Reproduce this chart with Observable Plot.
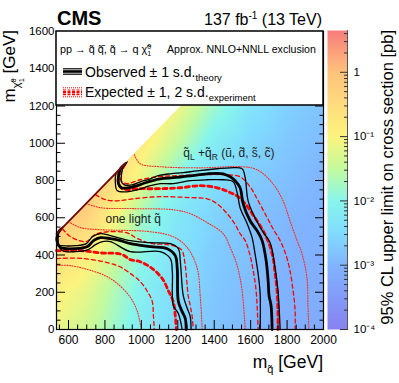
<!DOCTYPE html>
<html><head><meta charset="utf-8">
<script src="https://cdn.jsdelivr.net/npm/d3@7"></script>
<script src="https://cdn.jsdelivr.net/npm/@observablehq/plot@0.6"></script>
<style>
body{margin:0;background:#fff;}
#wrap{position:relative;width:399px;height:383px;overflow:hidden;font-family:"Liberation Sans",Arial,Helvetica,sans-serif;}
#wrap svg{position:absolute;top:0;}
</style></head><body><div id="wrap"></div>
<script>
// ---------- axes ----------
const xMin = 534, xMax = 2000, yMin = 0, yMax = 1600;
const xMajorTicks = [600, 800, 1000, 1200, 1400, 1600, 1800, 2000];
const yMajorTicks = [0, 200, 400, 600, 800, 1000, 1200, 1400, 1600];
const diagonalDm = 20;              // m(chi) = m(q) - dm edge of the plane
const diagonalEdgeX = [534, 912];   // span where the exclusion follows the diagonal

// ---------- heat map: log10(95% CL upper limit [pb]) ----------
const gridX = [534, 700, 850, 1000, 1200, 1400, 1600, 1800, 2000];
const gridY = [0, 200, 400, 600, 800, 1000, 1200, 1400, 1600];
const limitLog10 = [
  [-1.15, -1.4, -1.8, -2.2, -2.55, -2.8, -2.95, -3.1, -3.2],
  [-0.95, -1.2, -1.65, -2.1, -2.5, -2.75, -2.9, -3.05, -3.15],
  [-0.5, -0.9, -1.45, -1.95, -2.4, -2.7, -2.85, -3.0, -3.1],
  [-0.05, -0.3, -1.0, -1.75, -2.3, -2.6, -2.8, -2.95, -3.05],
  [0.2, 0.0, -0.5, -1.2, -2.0, -2.45, -2.7, -2.85, -3.0],
  [0.3, 0.1, -0.2, -0.8, -1.5, -2.2, -2.55, -2.75, -2.9],
  [0.3, 0.2, 0.0, -0.5, -1.1, -1.8, -2.35, -2.65, -2.8],
  [0.3, 0.2, 0.0, -0.3, -0.8, -1.4, -2.0, -2.5, -2.7],
  [0.3, 0.2, 0.0, -0.2, -0.6, -1.1, -1.7, -2.3, -2.6]
];
const barMinLog = -4, barMaxLog = 0.65;
const barMajor = [-4, -3, -2, -1, 0];

// ---------- contours: one light squark ----------
const obsA = [[556,536],[539,509],[539,466],[556,440],[638,434],[704,445],[737,477],[775,493],[830,488],[885,477],[940,461],[1049,445],[1142,434],[1186,397],[1197,327],[1203,150],[1224,96],[1241,59],[1246,0]];
const obsAUp = [[572,552],[545,531],[534,493],[539,456],[567,450],[638,450],[698,461],[731,498],[775,515],[830,504],[940,477],[1049,466],[1159,461],[1203,434],[1214,364],[1230,182],[1252,113],[1268,70],[1273,0]];
const obsADown = [[545,520],[545,456],[567,423],[638,418],[709,429],[748,456],[786,472],[830,472],[940,418],[1104,418],[1159,381],[1170,311],[1175,129],[1203,86],[1224,0]];
const expA = [[534,423],[666,423],[792,410],[846,410],[896,402],[940,375],[994,364],[1060,327],[1115,273],[1148,209],[1175,150],[1186,75],[1192,0]];
const expAUp = [[567,541],[611,498],[698,472],[737,504],[775,520],[918,520],[978,488],[1060,461],[1142,456],[1203,440],[1224,423],[1241,343],[1257,182],[1268,129],[1279,70],[1285,0]];
const expADown = [[534,381],[682,381],[868,343],[940,300],[994,257],[1033,204],[1060,150],[1066,75],[1071,0]];
const expAUp2 = [[600,579],[666,547],[775,536],[1049,525],[1175,498],[1252,440],[1307,327],[1323,182],[1334,0]];
const expADown2 = [[534,343],[611,343],[775,300],[830,273],[868,247],[940,172],[978,96],[1000,0]];

// ---------- contours: qL + qR (u, d, s, c) ----------
const obsB = [[912,890],[885,863],[874,820],[874,783],[890,761],[929,761],[978,772],[1022,788],[1104,809],[1175,815],[1268,825],[1361,836],[1449,836],[1488,820],[1515,799],[1542,761],[1559,675],[1597,584],[1635,531],[1663,477],[1685,370],[1696,263],[1701,182],[1712,129],[1718,0]];
const obsBUp = [[923,900],[901,874],[890,825],[890,793],[907,777],[950,777],[994,793],[1049,809],[1088,825],[1159,836],[1230,842],[1307,852],[1416,863],[1488,868],[1553,863],[1570,815],[1586,691],[1624,600],[1663,531],[1707,466],[1734,332],[1750,209],[1762,0]];
const obsBDown = [[896,868],[863,842],[857,793],[868,745],[929,740],[978,750],[1049,772],[1104,783],[1175,783],[1268,799],[1361,804],[1449,804],[1504,793],[1526,734],[1542,654],[1581,568],[1608,493],[1624,407],[1641,300],[1652,193],[1652,0]];
const expB = [[879,852],[874,788],[896,756],[994,756],[1104,756],[1214,761],[1323,772],[1416,761],[1477,740],[1531,713],[1575,670],[1608,622],[1641,574],[1674,520],[1701,461],[1723,386],[1734,305],[1745,209],[1750,102],[1750,0]];
const expBUp = [[912,884],[890,842],[890,799],[918,783],[994,804],[1088,820],[1175,825],[1323,831],[1460,831],[1542,820],[1597,766],[1641,691],[1685,611],[1723,541],[1762,477],[1795,397],[1816,316],[1833,209],[1844,102],[1844,0]];
const expBDown = [[748,724],[803,697],[868,691],[956,702],[1104,713],[1268,708],[1361,702],[1416,675],[1471,622],[1515,563],[1542,515],[1570,477],[1597,397],[1614,316],[1630,209],[1641,0]];
const expBUp2 = [[961,938],[994,890],[1104,874],[1323,868],[1553,874],[1635,858],[1718,788],[1778,691],[1816,584],[1855,477],[1882,407],[1909,279],[1915,118],[1920,0]];
const expBDown2 = [[698,676],[775,654],[956,649],[1175,643],[1268,622],[1361,574],[1449,515],[1488,440],[1526,343],[1553,209],[1570,0]];

// ---------- labels ----------
const labelA = {text: "one light q\u0303", x: 803, y: 592};
const labelB = {text: "q\u0303L+q\u0303R (u\u0303, d\u0303, s\u0303, c\u0303)", x: 1230, y: 949};

// ---------- styling ----------
const FONT = '"Liberation Sans", Arial, Helvetica, sans-serif';
const colorStops = [-4, -3, -2.5, -2, -1.5, -1, -0.5, 0, 0.65];
const colorRange = ["#8782f0","#80b4ff","#80dcff","#88f6ec","#c4fa9e","#fcf47e","#ffdc7e","#ffc27c","#f77c7c"];
const colorScale = {type: "linear", domain: colorStops, range: colorRange, clamp: true};

const samples = [];
gridY.forEach((y, j) => gridX.forEach((x, i) => samples.push({x, y, v: limitLog10[j][i]})));

const xMinor = d3.range(550, 2001, 50).filter(v => !xMajorTicks.includes(v));
const yMinor = d3.range(50, 1601, 50).filter(v => !yMajorTicks.includes(v));

const RED = "#ff0000";
const lineOpt = {curve: "catmull-rom", strokeLinejoin: "round"};
const dotted = d => Plot.line(d, {...lineOpt, stroke: "#ff2a2a", strokeWidth: 1.1, strokeDasharray: "1 1.6"});
const dashed = d => Plot.line(d, {...lineOpt, stroke: RED, strokeWidth: 1.3, strokeDasharray: "4 3"});
const dashedThick = d => Plot.line(d, {...lineOpt, stroke: RED, strokeWidth: 2.8, strokeDasharray: "4 3.5"});
const thin = d => Plot.line(d, {...lineOpt, stroke: "black", strokeWidth: 1.3});
const thick = d => Plot.line(d, {...lineOpt, stroke: "black", strokeWidth: 2.8});

const main = Plot.plot({
  width: 399, height: 383,
  marginLeft: 56, marginRight: 76, marginTop: 31, marginBottom: 54,
  style: {fontFamily: FONT, fontSize: "11.5px", background: "transparent", color: "black"},
  x: {domain: [xMin, xMax]},
  y: {domain: [yMin, yMax]},
  color: colorScale,
  marks: [
    Plot.raster(samples, {x: "x", y: "y", fill: "v", interpolate: "barycentric", x1: xMin, x2: xMax, y1: yMin, y2: yMax}),
    Plot.areaY([xMin, xMax], {x: d => d, y1: d => d - diagonalDm, y2: yMax, fill: "white", clip: true}),
    dotted(expADown2), dotted(expAUp2), dotted(expBDown2), dotted(expBUp2),
    dashed(expADown), dashed(expAUp), dashed(expBDown), dashed(expBUp),
    dashedThick(expA), dashedThick(expB),
    thin(obsAUp), thin(obsADown), thin(obsBUp), thin(obsBDown),
    thick(obsA), thick(obsB),
    Plot.line(diagonalEdgeX.map(x => [x, x - diagonalDm]), {stroke: "#6e0a0a", strokeWidth: 1.8}),
    Plot.text([labelA], {x: "x", y: "y", text: "text", textAnchor: "start", fontSize: 12, fill: "#222"}),
    Plot.text([labelB], {x: "x", y: "y", text: "text", textAnchor: "start", fontSize: 12, fill: "#222"}),
    Plot.frame({stroke: "black", strokeWidth: 1.2}),
    Plot.axisX(xMajorTicks, {anchor: "bottom", tickSize: 0, tickPadding: 6, label: null, fontSize: 12, tickFormat: d => String(d)}),
    Plot.axisX(xMajorTicks, {anchor: "bottom", tickSize: -9, fill: "none", label: null}),
    Plot.axisX(xMinor, {anchor: "bottom", tickSize: -4.5, fill: "none", label: null}),
    Plot.axisY(yMajorTicks, {anchor: "left", tickSize: 0, tickPadding: 2, label: null, fontSize: 11.5, tickFormat: d => String(d)}),
    Plot.axisY(yMajorTicks, {anchor: "left", tickSize: -9, fill: "none", label: null}),
    Plot.axisY(yMinor, {anchor: "left", tickSize: -4.5, fill: "none", label: null}),
    Plot.axisY(yMajorTicks, {anchor: "right", tickSize: -9, fill: "none", label: null}),
    Plot.axisY(yMinor, {anchor: "right", tickSize: -4.5, fill: "none", label: null})
  ]
});
main.style.left = "0px";

// subscripts in the in-plot label
main.querySelectorAll("text").forEach(t => {
  if (t.textContent === labelB.text) {
    t.innerHTML = 'q\u0303<tspan dy="3.5" font-size="8.5">L</tspan><tspan dy="-3.5"> +q\u0303</tspan><tspan dy="3.5" font-size="8.5">R</tspan><tspan dy="-3.5"> (u\u0303, d\u0303, s\u0303, c\u0303)</tspan>';
  }
});

// ---------- colour bar ----------
const supMap = {"-": "\u207B", "0": "\u2070", "1": "\u00B9", "2": "\u00B2", "3": "\u00B3", "4": "\u2074"};
const fmtPow = d => d === 0 ? "1" : "10" + String(d).split("").map(c => supMap[c]).join("");
const barMinor = [];
for (let n = barMinLog; n <= 0; n++) for (let k = 2; k <= 9; k++) {
  const v = n + Math.log10(k);
  if (v <= barMaxLog) barMinor.push(v);
}
const bar = Plot.plot({
  width: 99, height: 383,
  marginLeft: 27, marginRight: 52, marginTop: 30, marginBottom: 54,
  style: {fontFamily: FONT, fontSize: "11.5px", background: "transparent", color: "black"},
  x: {domain: [0, 1], axis: null},
  y: {domain: [barMinLog, barMaxLog]},
  color: colorScale,
  marks: [
    Plot.raster({x1: 0, x2: 1, y1: barMinLog, y2: barMaxLog, fill: (x, y) => y}),
    Plot.ruleX([1], {stroke: "#555"}),
    Plot.axisY(barMajor, {anchor: "right", tickSize: -8, fill: "none", label: null, stroke: "#333"}),
    Plot.axisY(barMinor, {anchor: "right", tickSize: -4, fill: "none", label: null, stroke: "#333"}),
    Plot.axisY(barMajor, {anchor: "right", tickSize: 0, tickPadding: 6, label: null, tickFormat: fmtPow})
  ]
});
bar.style.left = "300px";

const wrap = document.getElementById("wrap");
wrap.appendChild(main);
wrap.appendChild(bar);

// ---------- titles and legend ----------
const ov = `
<svg width="399" height="383" style="left:0;top:0" font-family='${FONT}' fill="black">
  <text x="57" y="25" font-size="20" font-weight="bold">CMS</text>
  <text x="322" y="25" font-size="16" text-anchor="end">137 fb<tspan dy="-6" font-size="10">-1</tspan><tspan dy="6"> (13 TeV)</tspan></text>
  <rect x="56" y="31" width="267" height="74" fill="white" stroke="black" stroke-width="1.5"/>
  <text x="60" y="53" font-size="10.8">pp \u2192 q\u0303 q\u0303\u0304, q\u0303 \u2192 q \u03C7\u0303<tspan dy="-4" font-size="7">0</tspan><tspan dx="-3.9" dy="7" font-size="7">1</tspan></text>
  <text x="167" y="53" font-size="10.6">Approx. NNLO+NNLL exclusion</text>
  <g stroke="black">
    <line x1="63" x2="82" y1="68.8" y2="68.8" stroke-width="1.2"/>
    <line x1="63" x2="82" y1="71.5" y2="71.5" stroke-width="2.6"/>
    <line x1="63" x2="82" y1="74.2" y2="74.2" stroke-width="1.2"/>
  </g>
  <g stroke="#ff0000">
    <line x1="63" x2="82" y1="87.8" y2="87.8" stroke-width="1" stroke-dasharray="1 1"/>
    <line x1="63" x2="82" y1="90" y2="90" stroke-width="1.2" stroke-dasharray="3 1.5"/>
    <line x1="63" x2="82" y1="92.3" y2="92.3" stroke-width="2.4" stroke-dasharray="3 1.5"/>
    <line x1="63" x2="82" y1="94.6" y2="94.6" stroke-width="1.2" stroke-dasharray="3 1.5"/>
    <line x1="63" x2="82" y1="96.8" y2="96.8" stroke-width="1" stroke-dasharray="1 1"/>
  </g>
  <text x="85" y="77" font-size="14">Observed \u00B1 1 s.d.<tspan dy="4" font-size="9.5">theory</tspan></text>
  <text x="85" y="96.5" font-size="14">Expected \u00B1 1, 2 s.d.<tspan dy="4" font-size="9.5">experiment</tspan></text>
  <text x="323" y="368" font-size="17.5" text-anchor="end">m<tspan dy="5" font-size="11">q\u0303</tspan><tspan dy="-5"> [GeV]</tspan></text>
  <text transform="translate(15,30) rotate(-90)" font-size="17" text-anchor="end">m<tspan dy="5" font-size="11">\u03C7\u0303</tspan><tspan dy="-4" font-size="7.5">0</tspan><tspan dx="-4" dy="8" font-size="7.5">1</tspan><tspan dy="-9"> [GeV]</tspan></text>
  <text transform="translate(393,30) rotate(-90)" font-size="16.5" text-anchor="end">95% CL upper limit on cross section [pb]</text>
</svg>`;
wrap.insertAdjacentHTML("beforeend", ov);
</script></body></html>
